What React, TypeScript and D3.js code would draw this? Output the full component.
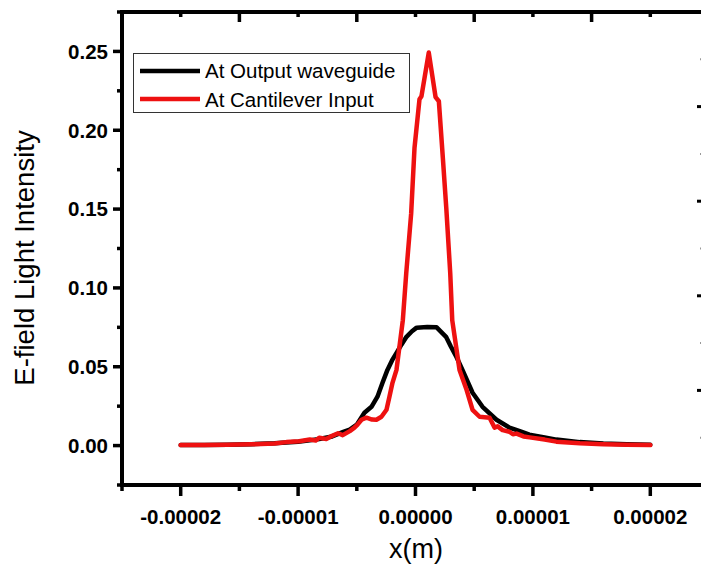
import React from "react";
import * as d3 from "d3";

// ---- Data (x in metres, y = E-field light intensity) ----
const blackX = [-2.0e-5, -1.8e-5, -1.6e-5, -1.4e-5, -1.2e-5, -1.0e-5, -0.9e-5, -0.82e-5, -0.71e-5, -0.62e-5, -0.56e-5, -0.5e-5, -0.435e-5, -0.375e-5, -0.324e-5, -0.281e-5, -0.239e-5, -0.2e-5, -0.16e-5, -0.12e-5, -0.077e-5, -0.03e-5, 0.01e-5, 0.1e-5, 0.18e-5, 0.22e-5, 0.26e-5, 0.3e-5, 0.35e-5, 0.4e-5, 0.486e-5, 0.571e-5, 0.69e-5, 0.8e-5, 0.9e-5, 0.97e-5, 1.1e-5, 1.2e-5, 1.4e-5, 1.6e-5, 1.8e-5, 2.0e-5];
const blackY = [0.0003, 0.0004, 0.0006, 0.0009, 0.0015, 0.0025, 0.0033, 0.0042, 0.0058, 0.0085, 0.0102, 0.0133, 0.0208, 0.0246, 0.031, 0.0398, 0.048, 0.054, 0.059, 0.064, 0.069, 0.0725, 0.0748, 0.0752, 0.075, 0.072, 0.069, 0.063, 0.056, 0.048, 0.0335, 0.0246, 0.0164, 0.0114, 0.0088, 0.0069, 0.0052, 0.0038, 0.0022, 0.0013, 0.0008, 0.0005];

const redX = [-2.0e-5, -1.8e-5, -1.6e-5, -1.4e-5, -1.2e-5, -1.1e-5, -0.99e-5, -0.9e-5, -0.85e-5, -0.82e-5, -0.76e-5, -0.71e-5, -0.66e-5, -0.62e-5, -0.56e-5, -0.52e-5, -0.494e-5, -0.46e-5, -0.418e-5, -0.37e-5, -0.333e-5, -0.29e-5, -0.247e-5, -0.222e-5, -0.196e-5, -0.162e-5, -0.108e-5, -0.079e-5, -0.037e-5, -0.0085e-5, 0.034e-5, 0.051e-5, 0.113e-5, 0.171e-5, 0.199e-5, 0.233e-5, 0.262e-5, 0.296e-5, 0.313e-5, 0.375e-5, 0.435e-5, 0.486e-5, 0.546e-5, 0.631e-5, 0.673e-5, 0.7e-5, 0.742e-5, 0.8e-5, 0.83e-5, 0.861e-5, 0.92e-5, 0.972e-5, 1.1e-5, 1.2e-5, 1.4e-5, 1.6e-5, 1.8e-5, 2.0e-5];
const redY = [0.0003, 0.0004, 0.0006, 0.0008, 0.0013, 0.0022, 0.0027, 0.0038, 0.0032, 0.005, 0.0042, 0.0062, 0.0078, 0.0066, 0.0092, 0.0114, 0.0133, 0.0164, 0.0177, 0.0165, 0.0164, 0.0183, 0.0227, 0.031, 0.0398, 0.048, 0.0795, 0.1092, 0.1471, 0.1888, 0.2197, 0.2216, 0.2493, 0.221, 0.2184, 0.1824, 0.1509, 0.1092, 0.0795, 0.048, 0.0354, 0.0227, 0.0183, 0.0177, 0.0114, 0.0122, 0.0098, 0.0088, 0.0072, 0.0076, 0.0058, 0.0052, 0.0038, 0.0025, 0.0015, 0.0009, 0.0005, 0.0003];

const seriesNames = ["At Output waveguide", "At Cantilever Input"];
const seriesColors = ["#000000", "#ee1111"];

const xMajorTicks = [-2e-5, -1e-5, 0, 1e-5, 2e-5];
const xTickLabels = ["-0.00002", "-0.00001", "0.00000", "0.00001", "0.00002"];
const xMinorTicks = [-2.5e-5, -1.5e-5, -0.5e-5, 0.5e-5, 1.5e-5, 2.5e-5];
const yMajorTicks = [0, 0.05, 0.1, 0.15, 0.2, 0.25];
const yTickLabels = ["0.00", "0.05", "0.10", "0.15", "0.20", "0.25"];
const yMinorTicks = [-0.025, 0.025, 0.075, 0.125, 0.175, 0.225, 0.275];
const topMajor = [1, 2, 3, 4];
const topMinor = [0.5, 1.5, 2.5, 3.5, 4.5];
const rightMajor = [1, 2, 3, 4];
const rightMinor = [0.5, 1.5, 2.5, 3.5, 4.5];

const FONT = "Arial, 'Liberation Sans', sans-serif";

export default function App() {
  const left = 122, right = 709, top = 12, bottom = 485;
  const x = d3.scaleLinear().domain([-2.5e-5, 2.5e-5]).range([left, right]);
  const y = d3.scaleLinear().domain([-0.025, 0.275]).range([bottom, top]);
  const topScale = d3.scaleLinear().domain([0, 5]).range([left, right]);
  const rightScale = d3.scaleLinear().domain([0, 5]).range([bottom, top]);

  const line = d3
    .line<[number, number]>()
    .x((d) => x(d[0]))
    .y((d) => y(d[1]));

  const blackData = blackX.map((v, i) => [v, blackY[i]] as [number, number]);
  const redData = redX.map((v, i) => [v, redY[i]] as [number, number]);

  const axisW = 4;

  return (
    <svg
      width={701}
      height={569}
      style={{ position: "absolute", left: 0, top: 0, background: "#fff" }}
      fontFamily={FONT}
    >
      <rect x={0} y={0} width={701} height={569} fill="#fff" />

      {/* data lines */}
      <path d={line(blackData) || ""} fill="none" stroke={seriesColors[0]} strokeWidth={4.5} strokeLinejoin="round" strokeLinecap="round" />
      <path d={line(redData) || ""} fill="none" stroke={seriesColors[1]} strokeWidth={4.5} strokeLinejoin="round" strokeLinecap="round" />

      {/* frame */}
      <line x1={left} x2={right} y1={top} y2={top} stroke="#000" strokeWidth={axisW} />
      <line x1={left} x2={right} y1={bottom} y2={bottom} stroke="#000" strokeWidth={axisW} />
      <line x1={left} x2={left} y1={top - 2} y2={bottom + 2} stroke="#000" strokeWidth={axisW} />
      <line x1={right} x2={right} y1={top} y2={bottom} stroke="#000" strokeWidth={axisW} />

      {/* y ticks */}
      {yMajorTicks.map((t, i) => (
        <g key={"ym" + i}>
          <line x1={left - 9} x2={left} y1={y(t)} y2={y(t)} stroke="#000" strokeWidth={3.5} />
          <text x={108} y={y(t)} dy="0.36em" textAnchor="end" fontSize={20.5} fontWeight="bold" fill="#000">
            {yTickLabels[i]}
          </text>
        </g>
      ))}
      {yMinorTicks.map((t, i) => (
        <line key={"yn" + i} x1={left - 5} x2={left} y1={y(t)} y2={y(t)} stroke="#000" strokeWidth={3.5} />
      ))}

      {/* x ticks */}
      {xMajorTicks.map((t, i) => (
        <g key={"xm" + i}>
          <line x1={x(t)} x2={x(t)} y1={bottom} y2={bottom + 11} stroke="#000" strokeWidth={3.5} />
          <text x={x(t)} y={524} textAnchor="middle" fontSize={20.5} fontWeight="bold" fill="#000">
            {xTickLabels[i]}
          </text>
        </g>
      ))}
      {xMinorTicks.map((t, i) => (
        <line key={"xn" + i} x1={x(t)} x2={x(t)} y1={bottom} y2={bottom + 6} stroke="#000" strokeWidth={3.5} />
      ))}

      {/* top axis ticks (inward) */}
      {topMajor.map((t, i) => (
        <line key={"tm" + i} x1={topScale(t)} x2={topScale(t)} y1={top} y2={top + 10} stroke="#000" strokeWidth={3.5} />
      ))}
      {topMinor.map((t, i) => (
        <line key={"tn" + i} x1={topScale(t)} x2={topScale(t)} y1={top} y2={top + 5} stroke="#000" strokeWidth={3.5} />
      ))}

      {/* right axis ticks (inward) */}
      {rightMajor.map((t, i) => (
        <line key={"rm" + i} x1={right - 12} x2={right} y1={rightScale(t)} y2={rightScale(t)} stroke="#000" strokeWidth={3} />
      ))}
      {rightMinor.map((t, i) => (
        <line key={"rn" + i} x1={right - 9} x2={right} y1={rightScale(t)} y2={rightScale(t)} stroke="#999" strokeWidth={2} />
      ))}

      {/* axis titles */}
      <text x={416} y={558} textAnchor="middle" fontSize={27} fill="#000">
        x(m)
      </text>
      <text transform="translate(34,258) rotate(-90)" textAnchor="middle" fontSize={27.5} fill="#000">
        E-field Light Intensity
      </text>

      {/* legend */}
      <rect x={133.5} y={53.5} width={276} height={59} fill="#fff" stroke="#333" strokeWidth={1} />
      {seriesNames.map((n, i) => (
        <g key={"lg" + i}>
          <line x1={140} x2={200} y1={71 + i * 28} y2={71 + i * 28} stroke={seriesColors[i]} strokeWidth={4.5} />
          <text x={205} y={78 + i * 28.5} fontSize={20.5} fill="#000">
            {n}
          </text>
        </g>
      ))}
    </svg>
  );
}
